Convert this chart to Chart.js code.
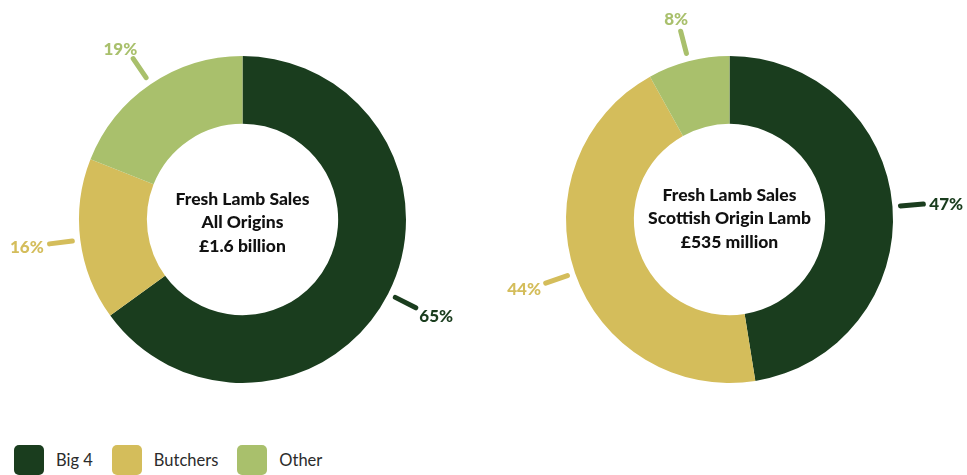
<!DOCTYPE html>
<html>
<head>
<meta charset="utf-8">
<script src="https://cdn.jsdelivr.net/npm/chart.js@4"></script>
<style>
  body { margin: 0; background: #fff; font-family: Lato, sans-serif; }
  #wrap { position: relative; width: 967px; height: 475px; overflow: hidden; }
  .box { position: absolute; top: 0; height: 438px; }
  #legend { position: absolute; left: 14px; top: 445px; display: flex; align-items: center; }
  #legend .item { display: flex; align-items: center; margin-right: 19px; }
  #legend .sw { width: 30px; height: 30px; border-radius: 5px; margin-right: 12px; }
  #legend span { font-size: 16.5px; color: #2b2b2b; }
</style>
</head>
<body>
<div id="wrap">
  <div class="box" style="left:0;width:485px"><canvas id="grafica1"></canvas></div>
  <div class="box" style="left:487px;width:480px"><canvas id="grafica2"></canvas></div>
  <div id="legend"></div>
</div>
<script>
const categorias = ['Big 4', 'Butchers', 'Other'];
const colores = ['#1a3d1e', '#d4bd5b', '#a9c06c'];

const todosOrigenes = [65, 16, 19];
const origenEscoces = [47, 44, 8];

const textoIzq = ['Fresh Lamb Sales', 'All Origins', '£1.6 billion'];
const textoDer = ['Fresh Lamb Sales', 'Scottish Origin Lamb', '£535 million'];

// leader lines + % labels outside each slice, and the title in the hole
const etiquetas = {
    id: 'etiquetas',
    afterDatasetsDraw(chart, args, opts) {
        const ctx = chart.ctx;
        const ds = chart.data.datasets[0];
        const meta = chart.getDatasetMeta(0);
        ctx.save();
        ctx.font = '900 17px Lato';
        ctx.lineCap = 'round';
        ctx.lineWidth = 5;
        meta.data.forEach((arc, i) => {
            const p = arc.getProps(['x', 'y', 'startAngle', 'endAngle', 'outerRadius'], true);
            const mid = (p.startAngle + p.endAngle) / 2;
            const dx = Math.cos(mid), dy = Math.sin(mid);
            const r1 = p.outerRadius + 8, r2 = p.outerRadius + 31;
            ctx.strokeStyle = ds.backgroundColor[i];
            ctx.beginPath();
            ctx.moveTo(p.x + dx * r1, p.y + dy * r1);
            ctx.lineTo(p.x + dx * r2, p.y + dy * r2);
            ctx.stroke();
            const txt = ds.data[i] + '%';
            const w = ctx.measureText(txt).width;
            const ex = p.x + dx * (r2 + 6), ey = p.y + dy * (r2 + 6);
            ctx.fillStyle = ds.backgroundColor[i];
            ctx.textAlign = 'center';
            ctx.textBaseline = 'middle';
            ctx.fillText(txt, ex + dx * w / 2, ey + dy * 8 + 2);
        });
        const c = meta.data[0];
        ctx.fillStyle = '#111';
        ctx.font = '900 17.5px Lato';
        ctx.textAlign = 'center';
        ctx.textBaseline = 'middle';
        const lineas = opts.lineas;
        const y0 = c.y - (lineas.length - 1) * 23.5 / 2 + opts.dy;
        lineas.forEach((t, k) => ctx.fillText(t, c.x, y0 + k * 23.5));
        ctx.restore();
    }
};

function dona(id, valores, lineas, pad, dy) {
    return new Chart(document.getElementById(id).getContext('2d'), {
        type: 'doughnut',
        data: {
            labels: categorias,
            datasets: [{
                data: valores,
                backgroundColor: colores,
                borderWidth: 0
            }]
        },
        options: {
            responsive: true,
            maintainAspectRatio: false,
            animation: false,
            events: [],
            cutout: '58.5%',
            layout: { padding: pad },
            plugins: {
                legend: { display: false },
                tooltip: { enabled: false },
                etiquetas: { lineas: lineas, dy: dy }
            }
        },
        plugins: [etiquetas]
    });
}

dona('grafica1', todosOrigenes, textoIzq, { top: 56, bottom: 55, left: 79, right: 79 }, 3);
dona('grafica2', origenEscoces, textoDer, { top: 56, bottom: 55, left: 79, right: 74 }, -1);

const leyenda = document.getElementById('legend');
categorias.forEach((c, i) => {
    const item = document.createElement('div');
    item.className = 'item';
    item.innerHTML = '<div class="sw" style="background:' + colores[i] + '"></div><span>' + c + '</span>';
    leyenda.appendChild(item);
});
</script>
</body>
</html>
